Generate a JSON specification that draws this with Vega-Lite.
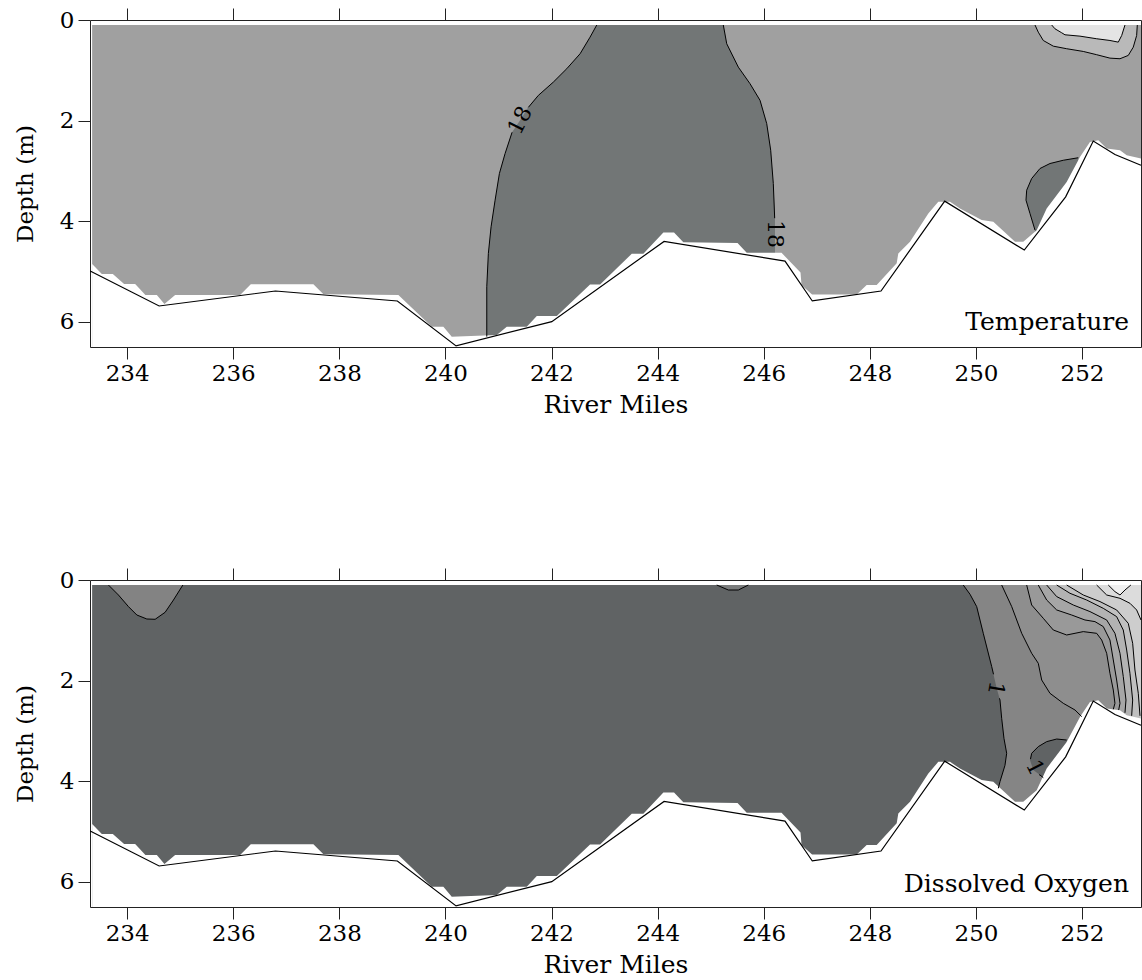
{
"$schema": "https://vega.github.io/schema/vega-lite/v6.json",
"background": "white",
"padding": {"left": 14, "top": 7, "right": 0, "bottom": 0},
"spacing": 150,
"config": {
  "font": "DejaVu Serif",
  "view": {"stroke": null},
  "text": {"font": "DejaVu Serif", "color": "#000"},
  "axis": {"labelFont": "DejaVu Serif", "titleFont": "DejaVu Serif", "labelFontSize": 23, "titleFontSize": 23, "titleFontWeight": "normal", "labelColor": "#000", "titleColor": "#000", "domainColor": "#222", "tickColor": "#222", "domainWidth": 1, "tickWidth": 1, "tickSize": 12, "grid": false, "zindex": 1}
},
"datasets": {
  "base": [{"i":0,"mile":233.34,"depth":0.1},{"i":1,"mile":253.111,"depth":0.1},{"i":2,"mile":253.111,"depth":6.5},{"i":3,"mile":233.34,"depth":6.5}],
  "mask": [{"i":0,"mile":233.34,"depth":4.851},{"i":1,"mile":233.523,"depth":5.05},{"i":2,"mile":233.73,"depth":5.05},{"i":3,"mile":233.943,"depth":5.248},{"i":4,"mile":234.151,"depth":5.248},{"i":5,"mile":234.345,"depth":5.466},{"i":6,"mile":234.56,"depth":5.466},{"i":7,"mile":234.703,"depth":5.645},{"i":8,"mile":234.905,"depth":5.466},{"i":9,"mile":236.13,"depth":5.466},{"i":10,"mile":236.331,"depth":5.254},{"i":11,"mile":237.511,"depth":5.254},{"i":12,"mile":237.7,"depth":5.452},{"i":13,"mile":239.113,"depth":5.466},{"i":14,"mile":239.742,"depth":6.095},{"i":15,"mile":239.961,"depth":6.095},{"i":16,"mile":240.119,"depth":6.294},{"i":17,"mile":240.968,"depth":6.26},{"i":18,"mile":241.156,"depth":6.095},{"i":19,"mile":241.533,"depth":6.095},{"i":20,"mile":241.722,"depth":5.883},{"i":21,"mile":242.099,"depth":5.883},{"i":22,"mile":242.726,"depth":5.258},{"i":23,"mile":242.915,"depth":5.258},{"i":24,"mile":243.512,"depth":4.647},{"i":25,"mile":243.731,"depth":4.647},{"i":26,"mile":244.108,"depth":4.226},{"i":27,"mile":244.309,"depth":4.226},{"i":28,"mile":244.484,"depth":4.419},{"i":29,"mile":245.506,"depth":4.435},{"i":30,"mile":245.679,"depth":4.627},{"i":31,"mile":246.335,"depth":4.627},{"i":32,"mile":246.693,"depth":5.02},{"i":33,"mile":246.712,"depth":5.268},{"i":34,"mile":246.91,"depth":5.456},{"i":35,"mile":247.752,"depth":5.456},{"i":36,"mile":247.94,"depth":5.268},{"i":37,"mile":248.129,"depth":5.268},{"i":38,"mile":248.506,"depth":4.837},{"i":39,"mile":248.536,"depth":4.639},{"i":40,"mile":248.757,"depth":4.409},{"i":41,"mile":249.102,"depth":3.845},{"i":42,"mile":249.29,"depth":3.615},{"i":43,"mile":249.511,"depth":3.615},{"i":44,"mile":249.699,"depth":3.746},{"i":45,"mile":250.108,"depth":3.978},{"i":46,"mile":250.327,"depth":4.012},{"i":47,"mile":250.736,"depth":4.409},{"i":48,"mile":250.892,"depth":4.409},{"i":49,"mile":251.145,"depth":4.177},{"i":50,"mile":251.333,"depth":3.746},{"i":51,"mile":251.71,"depth":3.218},{"i":52,"mile":251.961,"depth":2.722},{"i":53,"mile":252.149,"depth":2.425},{"i":54,"mile":252.306,"depth":2.391},{"i":55,"mile":252.464,"depth":2.556},{"i":56,"mile":252.715,"depth":2.589},{"i":57,"mile":252.841,"depth":2.688},{"i":58,"mile":253.111,"depth":2.754},{"i":59,"mile":253.111,"depth":6.5},{"i":60,"mile":233.34,"depth":6.5}],
  "bathy": [{"i":0,"mile":233.303,"depth":4.99},{"i":1,"mile":234.603,"depth":5.685},{"i":2,"mile":236.795,"depth":5.387},{"i":3,"mile":239.094,"depth":5.585},{"i":4,"mile":240.2,"depth":6.478},{"i":5,"mile":242.004,"depth":5.996},{"i":6,"mile":244.121,"depth":4.401},{"i":7,"mile":246.401,"depth":4.792},{"i":8,"mile":246.915,"depth":5.585},{"i":9,"mile":248.21,"depth":5.387},{"i":10,"mile":249.411,"depth":3.601},{"i":11,"mile":250.911,"depth":4.573},{"i":12,"mile":251.691,"depth":3.516},{"i":13,"mile":252.211,"depth":2.405},{"i":14,"mile":252.62,"depth":2.675},{"i":15,"mile":253.11,"depth":2.887}],
  "T_dark": [{"i":0,"mile":242.852,"depth":0.1},{"i":1,"mile":242.726,"depth":0.341},{"i":2,"mile":242.538,"depth":0.671},{"i":3,"mile":242.287,"depth":0.968},{"i":4,"mile":242.034,"depth":1.234},{"i":5,"mile":241.752,"depth":1.498},{"i":6,"mile":241.563,"depth":1.73},{"i":7,"mile":241.407,"depth":1.994},{"i":8,"mile":241.256,"depth":2.232},{"i":9,"mile":241.124,"depth":2.655},{"i":10,"mile":241.017,"depth":3.052},{"i":11,"mile":240.936,"depth":3.581},{"i":12,"mile":240.86,"depth":4.111},{"i":13,"mile":240.809,"depth":4.639},{"i":14,"mile":240.779,"depth":5.302},{"i":15,"mile":240.779,"depth":6.5},{"i":16,"mile":246.212,"depth":6.5},{"i":17,"mile":246.212,"depth":3.913},{"i":18,"mile":246.18,"depth":3.25},{"i":19,"mile":246.131,"depth":2.589},{"i":20,"mile":246.056,"depth":2.06},{"i":21,"mile":245.93,"depth":1.597},{"i":22,"mile":245.741,"depth":1.266},{"i":23,"mile":245.521,"depth":0.937},{"i":24,"mile":245.302,"depth":0.472},{"i":25,"mile":245.238,"depth":0.1}],
  "T_dark2": [{"i":0,"mile":251.929,"depth":2.738},{"i":1,"mile":251.646,"depth":2.788},{"i":2,"mile":251.395,"depth":2.853},{"i":3,"mile":251.207,"depth":2.952},{"i":4,"mile":251.05,"depth":3.151},{"i":5,"mile":250.956,"depth":3.383},{"i":6,"mile":250.943,"depth":3.581},{"i":7,"mile":251.018,"depth":3.845},{"i":8,"mile":251.113,"depth":4.177},{"i":9,"mile":251.113,"depth":6.5},{"i":10,"mile":251.929,"depth":6.5}],
  "T_bo": [{"i":0,"mile":251.113,"depth":0.1},{"i":1,"mile":251.175,"depth":0.242},{"i":2,"mile":251.269,"depth":0.407},{"i":3,"mile":251.458,"depth":0.52},{"i":4,"mile":251.71,"depth":0.571},{"i":5,"mile":252.023,"depth":0.625},{"i":6,"mile":252.276,"depth":0.69},{"i":7,"mile":252.526,"depth":0.758},{"i":8,"mile":252.715,"depth":0.77},{"i":9,"mile":252.871,"depth":0.704},{"i":10,"mile":252.965,"depth":0.54},{"i":11,"mile":253.029,"depth":0.308},{"i":12,"mile":253.041,"depth":0.1}],
  "T_bi": [{"i":0,"mile":251.428,"depth":0.1},{"i":1,"mile":251.49,"depth":0.175},{"i":2,"mile":251.616,"depth":0.254},{"i":3,"mile":251.678,"depth":0.294},{"i":4,"mile":251.961,"depth":0.321},{"i":5,"mile":252.276,"depth":0.373},{"i":6,"mile":252.526,"depth":0.407},{"i":7,"mile":252.683,"depth":0.44},{"i":8,"mile":252.747,"depth":0.308},{"i":9,"mile":252.809,"depth":0.1}],
  "T_lines": [
    {"seg":"18a","i":0,"mile":242.852,"depth":0.1},{"seg":"18a","i":1,"mile":242.726,"depth":0.341},{"seg":"18a","i":2,"mile":242.538,"depth":0.671},{"seg":"18a","i":3,"mile":242.287,"depth":0.968},{"seg":"18a","i":4,"mile":242.034,"depth":1.234},{"seg":"18a","i":5,"mile":241.752,"depth":1.498},{"seg":"18a","i":6,"mile":241.563,"depth":1.736},
    {"seg":"18b","i":0,"mile":241.256,"depth":2.232},{"seg":"18b","i":1,"mile":241.124,"depth":2.655},{"seg":"18b","i":2,"mile":241.017,"depth":3.052},{"seg":"18b","i":3,"mile":240.936,"depth":3.581},{"seg":"18b","i":4,"mile":240.86,"depth":4.111},{"seg":"18b","i":5,"mile":240.809,"depth":4.639},{"seg":"18b","i":6,"mile":240.779,"depth":5.302},{"seg":"18b","i":7,"mile":240.779,"depth":6.294},
    {"seg":"18c","i":0,"mile":245.238,"depth":0.1},{"seg":"18c","i":1,"mile":245.302,"depth":0.472},{"seg":"18c","i":2,"mile":245.521,"depth":0.937},{"seg":"18c","i":3,"mile":245.741,"depth":1.266},{"seg":"18c","i":4,"mile":245.93,"depth":1.597},{"seg":"18c","i":5,"mile":246.056,"depth":2.06},{"seg":"18c","i":6,"mile":246.131,"depth":2.589},{"seg":"18c","i":7,"mile":246.18,"depth":3.25},{"seg":"18c","i":8,"mile":246.206,"depth":3.94},
    {"seg":"bo","i":0,"mile":251.113,"depth":0.1},{"seg":"bo","i":1,"mile":251.175,"depth":0.242},{"seg":"bo","i":2,"mile":251.269,"depth":0.407},{"seg":"bo","i":3,"mile":251.458,"depth":0.52},{"seg":"bo","i":4,"mile":251.71,"depth":0.571},{"seg":"bo","i":5,"mile":252.023,"depth":0.625},{"seg":"bo","i":6,"mile":252.276,"depth":0.69},{"seg":"bo","i":7,"mile":252.526,"depth":0.758},{"seg":"bo","i":8,"mile":252.715,"depth":0.77},{"seg":"bo","i":9,"mile":252.871,"depth":0.704},{"seg":"bo","i":10,"mile":252.965,"depth":0.54},{"seg":"bo","i":11,"mile":253.029,"depth":0.308},{"seg":"bo","i":12,"mile":253.041,"depth":0.1},
    {"seg":"bi","i":0,"mile":251.428,"depth":0.1},{"seg":"bi","i":1,"mile":251.49,"depth":0.175},{"seg":"bi","i":2,"mile":251.616,"depth":0.254},{"seg":"bi","i":3,"mile":251.678,"depth":0.294},{"seg":"bi","i":4,"mile":251.961,"depth":0.321},{"seg":"bi","i":5,"mile":252.276,"depth":0.373},{"seg":"bi","i":6,"mile":252.526,"depth":0.407},{"seg":"bi","i":7,"mile":252.683,"depth":0.44},{"seg":"bi","i":8,"mile":252.747,"depth":0.308},{"seg":"bi","i":9,"mile":252.809,"depth":0.1},
    {"seg":"d2","i":0,"mile":251.929,"depth":2.738},{"seg":"d2","i":1,"mile":251.646,"depth":2.788},{"seg":"d2","i":2,"mile":251.395,"depth":2.853},{"seg":"d2","i":3,"mile":251.207,"depth":2.952},{"seg":"d2","i":4,"mile":251.05,"depth":3.151},{"seg":"d2","i":5,"mile":250.956,"depth":3.383},{"seg":"d2","i":6,"mile":250.943,"depth":3.581},{"seg":"d2","i":7,"mile":251.018,"depth":3.845},{"seg":"d2","i":8,"mile":251.113,"depth":4.177}
  ],
  "D_lb": [{"i":0,"mile":233.648,"depth":0.1},{"i":1,"mile":233.836,"depth":0.298},{"i":2,"mile":234.025,"depth":0.529},{"i":3,"mile":234.183,"depth":0.696},{"i":4,"mile":234.371,"depth":0.775},{"i":5,"mile":234.528,"depth":0.781},{"i":6,"mile":234.716,"depth":0.642},{"i":7,"mile":234.873,"depth":0.398},{"i":8,"mile":235.05,"depth":0.1}],
  "D_tb": [{"i":0,"mile":245.114,"depth":0.1},{"i":1,"mile":245.333,"depth":0.199},{"i":2,"mile":245.521,"depth":0.199},{"i":3,"mile":245.709,"depth":0.1}],
  "D_p2": [{"i":0,"mile":249.761,"depth":0.1},{"i":1,"mile":249.888,"depth":0.284},{"i":2,"mile":250.014,"depth":0.529},{"i":3,"mile":250.138,"depth":1.06},{"i":4,"mile":250.297,"depth":1.722},{"i":5,"mile":250.391,"depth":2.153},{"i":6,"mile":250.453,"depth":2.386},{"i":7,"mile":250.485,"depth":2.75},{"i":8,"mile":250.528,"depth":3.147},{"i":9,"mile":250.579,"depth":3.445},{"i":10,"mile":250.547,"depth":3.684},{"i":11,"mile":250.453,"depth":4.008},{"i":12,"mile":250.421,"depth":4.141},{"i":13,"mile":250.421,"depth":6.5},{"i":14,"mile":253.111,"depth":6.5},{"i":15,"mile":253.111,"depth":0.1}],
  "D_p3": [{"i":0,"mile":250.485,"depth":0.1},{"i":1,"mile":250.674,"depth":0.529},{"i":2,"mile":250.862,"depth":1.06},{"i":3,"mile":251.05,"depth":1.457},{"i":4,"mile":251.175,"depth":1.656},{"i":5,"mile":251.239,"depth":1.988},{"i":6,"mile":251.395,"depth":2.252},{"i":7,"mile":251.646,"depth":2.451},{"i":8,"mile":251.867,"depth":2.584},{"i":9,"mile":251.993,"depth":2.716},{"i":10,"mile":251.993,"depth":6.5},{"i":11,"mile":253.111,"depth":6.5},{"i":12,"mile":253.111,"depth":0.1}],
  "D_p4": [{"i":0,"mile":250.956,"depth":0.1},{"i":1,"mile":251.05,"depth":0.497},{"i":2,"mile":251.269,"depth":0.761},{"i":3,"mile":251.458,"depth":0.994},{"i":4,"mile":251.71,"depth":1.093},{"i":5,"mile":252.023,"depth":1.026},{"i":6,"mile":252.276,"depth":1.06},{"i":7,"mile":252.37,"depth":1.193},{"i":8,"mile":252.464,"depth":1.457},{"i":9,"mile":252.526,"depth":1.855},{"i":10,"mile":252.589,"depth":2.187},{"i":11,"mile":252.62,"depth":2.451},{"i":12,"mile":252.589,"depth":2.57},{"i":13,"mile":252.589,"depth":6.5},{"i":14,"mile":253.111,"depth":6.5},{"i":15,"mile":253.111,"depth":0.1}],
  "D_p5": [{"i":0,"mile":251.175,"depth":0.1},{"i":1,"mile":251.333,"depth":0.398},{"i":2,"mile":251.522,"depth":0.596},{"i":3,"mile":251.804,"depth":0.696},{"i":4,"mile":252.055,"depth":0.795},{"i":5,"mile":252.243,"depth":0.827},{"i":6,"mile":252.4,"depth":0.926},{"i":7,"mile":252.526,"depth":1.193},{"i":8,"mile":252.589,"depth":1.59},{"i":9,"mile":252.652,"depth":1.988},{"i":10,"mile":252.715,"depth":2.451},{"i":11,"mile":252.69,"depth":2.585},{"i":12,"mile":252.69,"depth":6.5},{"i":13,"mile":253.111,"depth":6.5},{"i":14,"mile":253.111,"depth":0.1}],
  "D_p6": [{"i":0,"mile":251.333,"depth":0.1},{"i":1,"mile":251.522,"depth":0.33},{"i":2,"mile":251.835,"depth":0.497},{"i":3,"mile":252.149,"depth":0.628},{"i":4,"mile":252.464,"depth":0.795},{"i":5,"mile":252.62,"depth":1.06},{"i":6,"mile":252.715,"depth":1.457},{"i":7,"mile":252.777,"depth":1.92},{"i":8,"mile":252.828,"depth":2.386},{"i":9,"mile":252.809,"depth":2.64},{"i":10,"mile":252.809,"depth":6.5},{"i":11,"mile":253.111,"depth":6.5},{"i":12,"mile":253.111,"depth":0.1}],
  "D_p7": [{"i":0,"mile":251.522,"depth":0.1},{"i":1,"mile":251.772,"depth":0.264},{"i":2,"mile":252.087,"depth":0.398},{"i":3,"mile":252.4,"depth":0.563},{"i":4,"mile":252.652,"depth":0.728},{"i":5,"mile":252.777,"depth":0.994},{"i":6,"mile":252.841,"depth":1.392},{"i":7,"mile":252.903,"depth":1.855},{"i":8,"mile":252.954,"depth":2.386},{"i":9,"mile":252.935,"depth":2.7},{"i":10,"mile":252.935,"depth":6.5},{"i":11,"mile":253.111,"depth":6.5},{"i":12,"mile":253.111,"depth":0.1}],
  "D_p8": [{"i":0,"mile":251.71,"depth":0.1},{"i":1,"mile":252.023,"depth":0.298},{"i":2,"mile":252.338,"depth":0.429},{"i":3,"mile":252.652,"depth":0.596},{"i":4,"mile":252.871,"depth":0.861},{"i":5,"mile":252.954,"depth":1.258},{"i":6,"mile":252.997,"depth":1.789},{"i":7,"mile":253.06,"depth":2.252},{"i":8,"mile":253.092,"depth":2.7},{"i":9,"mile":253.092,"depth":6.5},{"i":10,"mile":253.111,"depth":6.5},{"i":11,"mile":253.111,"depth":0.1}],
  "D_p9": [{"i":0,"mile":252.275,"depth":0.1},{"i":1,"mile":252.464,"depth":0.298},{"i":2,"mile":252.715,"depth":0.364},{"i":3,"mile":252.903,"depth":0.463},{"i":4,"mile":253.029,"depth":0.596},{"i":5,"mile":253.111,"depth":0.795},{"i":6,"mile":253.111,"depth":0.1}],
  "D_p10": [{"i":0,"mile":252.494,"depth":0.1},{"i":1,"mile":252.62,"depth":0.231},{"i":2,"mile":252.715,"depth":0.298},{"i":3,"mile":252.809,"depth":0.199},{"i":4,"mile":252.92,"depth":0.1}],
  "D_dark": [{"i":0,"mile":251.71,"depth":3.181},{"i":1,"mile":251.522,"depth":3.161},{"i":2,"mile":251.333,"depth":3.213},{"i":3,"mile":251.175,"depth":3.312},{"i":4,"mile":251.05,"depth":3.445},{"i":5,"mile":251.018,"depth":3.579},{"i":6,"mile":251.081,"depth":3.777},{"i":7,"mile":251.207,"depth":3.877},{"i":8,"mile":251.27,"depth":3.93},{"i":9,"mile":251.27,"depth":6.5},{"i":10,"mile":251.71,"depth":6.5}],
  "D_lines": [
    {"seg":"lb","i":0,"mile":233.648,"depth":0.1},{"seg":"lb","i":1,"mile":233.836,"depth":0.298},{"seg":"lb","i":2,"mile":234.025,"depth":0.529},{"seg":"lb","i":3,"mile":234.183,"depth":0.696},{"seg":"lb","i":4,"mile":234.371,"depth":0.775},{"seg":"lb","i":5,"mile":234.528,"depth":0.781},{"seg":"lb","i":6,"mile":234.716,"depth":0.642},{"seg":"lb","i":7,"mile":234.873,"depth":0.398},{"seg":"lb","i":8,"mile":235.05,"depth":0.1},
    {"seg":"tb","i":0,"mile":245.114,"depth":0.1},{"seg":"tb","i":1,"mile":245.333,"depth":0.199},{"seg":"tb","i":2,"mile":245.521,"depth":0.199},{"seg":"tb","i":3,"mile":245.709,"depth":0.1},
    {"seg":"1a","i":0,"mile":249.761,"depth":0.1},{"seg":"1a","i":1,"mile":249.888,"depth":0.284},{"seg":"1a","i":2,"mile":250.014,"depth":0.529},{"seg":"1a","i":3,"mile":250.138,"depth":1.06},{"seg":"1a","i":4,"mile":250.297,"depth":1.722},{"seg":"1a","i":5,"mile":250.331,"depth":1.875},
    {"seg":"1b","i":0,"mile":250.443,"depth":2.352},{"seg":"1b","i":1,"mile":250.453,"depth":2.386},{"seg":"1b","i":2,"mile":250.485,"depth":2.75},{"seg":"1b","i":3,"mile":250.528,"depth":3.147},{"seg":"1b","i":4,"mile":250.579,"depth":3.445},{"seg":"1b","i":5,"mile":250.547,"depth":3.684},{"seg":"1b","i":6,"mile":250.453,"depth":4.008},{"seg":"1b","i":7,"mile":250.421,"depth":4.141},
    {"seg":"c2","i":0,"mile":250.485,"depth":0.1},{"seg":"c2","i":1,"mile":250.674,"depth":0.529},{"seg":"c2","i":2,"mile":250.862,"depth":1.06},{"seg":"c2","i":3,"mile":251.05,"depth":1.457},{"seg":"c2","i":4,"mile":251.175,"depth":1.656},{"seg":"c2","i":5,"mile":251.239,"depth":1.988},{"seg":"c2","i":6,"mile":251.395,"depth":2.252},{"seg":"c2","i":7,"mile":251.646,"depth":2.451},{"seg":"c2","i":8,"mile":251.867,"depth":2.584},{"seg":"c2","i":9,"mile":251.993,"depth":2.716},
    {"seg":"c3","i":0,"mile":250.956,"depth":0.1},{"seg":"c3","i":1,"mile":251.05,"depth":0.497},{"seg":"c3","i":2,"mile":251.269,"depth":0.761},{"seg":"c3","i":3,"mile":251.458,"depth":0.994},{"seg":"c3","i":4,"mile":251.71,"depth":1.093},{"seg":"c3","i":5,"mile":252.023,"depth":1.026},{"seg":"c3","i":6,"mile":252.276,"depth":1.06},{"seg":"c3","i":7,"mile":252.37,"depth":1.193},{"seg":"c3","i":8,"mile":252.464,"depth":1.457},{"seg":"c3","i":9,"mile":252.526,"depth":1.855},{"seg":"c3","i":10,"mile":252.589,"depth":2.187},{"seg":"c3","i":11,"mile":252.62,"depth":2.451},{"seg":"c3","i":12,"mile":252.589,"depth":2.57},
    {"seg":"c4","i":0,"mile":251.175,"depth":0.1},{"seg":"c4","i":1,"mile":251.333,"depth":0.398},{"seg":"c4","i":2,"mile":251.522,"depth":0.596},{"seg":"c4","i":3,"mile":251.804,"depth":0.696},{"seg":"c4","i":4,"mile":252.055,"depth":0.795},{"seg":"c4","i":5,"mile":252.243,"depth":0.827},{"seg":"c4","i":6,"mile":252.4,"depth":0.926},{"seg":"c4","i":7,"mile":252.526,"depth":1.193},{"seg":"c4","i":8,"mile":252.589,"depth":1.59},{"seg":"c4","i":9,"mile":252.652,"depth":1.988},{"seg":"c4","i":10,"mile":252.715,"depth":2.451},{"seg":"c4","i":11,"mile":252.69,"depth":2.585},
    {"seg":"c5","i":0,"mile":251.333,"depth":0.1},{"seg":"c5","i":1,"mile":251.522,"depth":0.33},{"seg":"c5","i":2,"mile":251.835,"depth":0.497},{"seg":"c5","i":3,"mile":252.149,"depth":0.628},{"seg":"c5","i":4,"mile":252.464,"depth":0.795},{"seg":"c5","i":5,"mile":252.62,"depth":1.06},{"seg":"c5","i":6,"mile":252.715,"depth":1.457},{"seg":"c5","i":7,"mile":252.777,"depth":1.92},{"seg":"c5","i":8,"mile":252.828,"depth":2.386},{"seg":"c5","i":9,"mile":252.809,"depth":2.64},
    {"seg":"c6","i":0,"mile":251.522,"depth":0.1},{"seg":"c6","i":1,"mile":251.772,"depth":0.264},{"seg":"c6","i":2,"mile":252.087,"depth":0.398},{"seg":"c6","i":3,"mile":252.4,"depth":0.563},{"seg":"c6","i":4,"mile":252.652,"depth":0.728},{"seg":"c6","i":5,"mile":252.777,"depth":0.994},{"seg":"c6","i":6,"mile":252.841,"depth":1.392},{"seg":"c6","i":7,"mile":252.903,"depth":1.855},{"seg":"c6","i":8,"mile":252.954,"depth":2.386},{"seg":"c6","i":9,"mile":252.935,"depth":2.7},
    {"seg":"c7","i":0,"mile":251.71,"depth":0.1},{"seg":"c7","i":1,"mile":252.023,"depth":0.298},{"seg":"c7","i":2,"mile":252.338,"depth":0.429},{"seg":"c7","i":3,"mile":252.652,"depth":0.596},{"seg":"c7","i":4,"mile":252.871,"depth":0.861},{"seg":"c7","i":5,"mile":252.954,"depth":1.258},{"seg":"c7","i":6,"mile":252.997,"depth":1.789},{"seg":"c7","i":7,"mile":253.06,"depth":2.252},{"seg":"c7","i":8,"mile":253.092,"depth":2.7},
    {"seg":"c8","i":0,"mile":252.275,"depth":0.1},{"seg":"c8","i":1,"mile":252.464,"depth":0.298},{"seg":"c8","i":2,"mile":252.715,"depth":0.364},{"seg":"c8","i":3,"mile":252.903,"depth":0.463},{"seg":"c8","i":4,"mile":253.029,"depth":0.596},{"seg":"c8","i":5,"mile":253.111,"depth":0.795},
    {"seg":"c9","i":0,"mile":252.494,"depth":0.1},{"seg":"c9","i":1,"mile":252.62,"depth":0.231},{"seg":"c9","i":2,"mile":252.715,"depth":0.298},{"seg":"c9","i":3,"mile":252.809,"depth":0.199},{"seg":"c9","i":4,"mile":252.92,"depth":0.1},
    {"seg":"dka","i":0,"mile":251.71,"depth":3.181},{"seg":"dka","i":1,"mile":251.522,"depth":3.161},{"seg":"dka","i":2,"mile":251.333,"depth":3.213},{"seg":"dka","i":3,"mile":251.175,"depth":3.312},{"seg":"dka","i":4,"mile":251.05,"depth":3.445},{"seg":"dka","i":5,"mile":251.028,"depth":3.56},
    {"seg":"dkb","i":0,"mile":251.19,"depth":3.87},{"seg":"dkb","i":1,"mile":251.207,"depth":3.877},{"seg":"dkb","i":2,"mile":251.27,"depth":3.93}
  ],
  "T_lab1": [{"mile":241.407,"depth":1.994,"label":"18"}],
  "T_lab2": [{"mile":246.213,"depth":4.256,"label":"18"}],
  "D_lab1": [{"mile":250.376,"depth":2.153,"label":"1"}],
  "D_lab2": [{"mile":251.11,"depth":3.73,"label":"1"}],
  "T_name": [{"mile":252.885,"depth":6.17,"label":"Temperature"}],
  "D_name": [{"mile":252.885,"depth":6.21,"label":"Dissolved Oxygen"}]
},
"vconcat": [
 {
  "width": 1051, "height": 327,
  "resolve": {"axis": {"x": "independent", "y": "independent"}},
  "encoding": {
    "x": {"field": "mile", "type": "quantitative", "scale": {"domain": [233.3, 253.111], "nice": false, "zero": false}, "axis": null},
    "y": {"field": "depth", "type": "quantitative", "scale": {"domain": [0, 6.5], "reverse": true, "nice": false, "zero": false}, "axis": null}
  },
  "layer": [
    {"data": {"name": "base"}, "mark": {"type": "line", "filled": true, "color": "#a0a0a0", "opacity": 1},
     "encoding": {
       "x": {"field": "mile", "type": "quantitative", "scale": {"domain": [233.3, 253.111], "nice": false, "zero": false}, "axis": {"orient": "bottom", "values": [234,236,238,240,242,244,246,248,250,252], "title": "River Miles", "titleFontSize": 25, "labelPadding": 3, "titlePadding": 7}},
       "y": {"field": "depth", "type": "quantitative", "scale": {"domain": [0, 6.5], "reverse": true, "nice": false, "zero": false}, "axis": {"orient": "left", "values": [0,2,4,6], "title": "Depth (m)", "labelPadding": 4, "titlePadding": 22}},
       "order": {"field": "i"}}},
    {"data": {"name": "T_dark"}, "mark": {"type": "line", "filled": true, "color": "#727676", "opacity": 1},
     "encoding": {
       "x": {"field": "mile", "type": "quantitative", "scale": {"domain": [233.3, 253.111], "nice": false, "zero": false}, "axis": {"orient": "top", "values": [234,236,238,240,242,244,246,248,250,252], "labels": false, "title": null}},
       "y": {"field": "depth", "type": "quantitative", "scale": {"domain": [0, 6.5], "reverse": true, "nice": false, "zero": false}, "axis": {"orient": "right", "labels": false, "ticks": false, "title": null}},
       "order": {"field": "i"}}},
    {"data": {"name": "T_dark2"}, "mark": {"type": "line", "filled": true, "color": "#727676", "opacity": 1}, "encoding": {"order": {"field": "i"}}},
    {"data": {"name": "T_bo"}, "mark": {"type": "line", "filled": true, "color": "#b9b9b9", "opacity": 1}, "encoding": {"order": {"field": "i"}}},
    {"data": {"name": "T_bi"}, "mark": {"type": "line", "filled": true, "color": "#e4e4e4", "opacity": 1}, "encoding": {"order": {"field": "i"}}},
    {"data": {"name": "mask"}, "mark": {"type": "line", "filled": true, "color": "#ffffff", "opacity": 1}, "encoding": {"order": {"field": "i"}}},
    {"data": {"name": "T_lines"}, "mark": {"type": "line", "color": "#000000", "strokeWidth": 1}, "encoding": {"detail": {"field": "seg"}, "order": {"field": "i"}}},
    {"data": {"name": "bathy"}, "mark": {"type": "line", "color": "#000000", "strokeWidth": 1.2}, "encoding": {"order": {"field": "i"}}},
    {"data": {"name": "T_lab1"}, "mark": {"type": "text", "fontSize": 22, "angle": 297, "align": "center", "baseline": "middle"}, "encoding": {"text": {"field": "label"}}},
    {"data": {"name": "T_lab2"}, "mark": {"type": "text", "fontSize": 22, "angle": 90, "align": "center", "baseline": "middle"}, "encoding": {"text": {"field": "label"}}},
    {"data": {"name": "T_name"}, "mark": {"type": "text", "fontSize": 25, "align": "right", "baseline": "alphabetic"}, "encoding": {"text": {"field": "label"}}}
  ]
 },
 {
  "width": 1051, "height": 327,
  "resolve": {"axis": {"x": "independent", "y": "independent"}},
  "encoding": {
    "x": {"field": "mile", "type": "quantitative", "scale": {"domain": [233.3, 253.111], "nice": false, "zero": false}, "axis": null},
    "y": {"field": "depth", "type": "quantitative", "scale": {"domain": [0, 6.5], "reverse": true, "nice": false, "zero": false}, "axis": null}
  },
  "layer": [
    {"data": {"name": "base"}, "mark": {"type": "line", "filled": true, "color": "#606364", "opacity": 1},
     "encoding": {
       "x": {"field": "mile", "type": "quantitative", "scale": {"domain": [233.3, 253.111], "nice": false, "zero": false}, "axis": {"orient": "bottom", "values": [234,236,238,240,242,244,246,248,250,252], "title": "River Miles", "titleFontSize": 25, "labelPadding": 3, "titlePadding": 7}},
       "y": {"field": "depth", "type": "quantitative", "scale": {"domain": [0, 6.5], "reverse": true, "nice": false, "zero": false}, "axis": {"orient": "left", "values": [0,2,4,6], "title": "Depth (m)", "labelPadding": 4, "titlePadding": 22}},
       "order": {"field": "i"}}},
    {"data": {"name": "D_lb"}, "mark": {"type": "line", "filled": true, "color": "#838383", "opacity": 1},
     "encoding": {
       "x": {"field": "mile", "type": "quantitative", "scale": {"domain": [233.3, 253.111], "nice": false, "zero": false}, "axis": {"orient": "top", "values": [234,236,238,240,242,244,246,248,250,252], "labels": false, "title": null}},
       "y": {"field": "depth", "type": "quantitative", "scale": {"domain": [0, 6.5], "reverse": true, "nice": false, "zero": false}, "axis": {"orient": "right", "labels": false, "ticks": false, "title": null}},
       "order": {"field": "i"}}},
    {"data": {"name": "D_tb"}, "mark": {"type": "line", "filled": true, "color": "#7a7c7c", "opacity": 1}, "encoding": {"order": {"field": "i"}}},
    {"data": {"name": "D_p2"}, "mark": {"type": "line", "filled": true, "color": "#858585", "opacity": 1}, "encoding": {"order": {"field": "i"}}},
    {"data": {"name": "D_p3"}, "mark": {"type": "line", "filled": true, "color": "#8e8e8e", "opacity": 1}, "encoding": {"order": {"field": "i"}}},
    {"data": {"name": "D_p4"}, "mark": {"type": "line", "filled": true, "color": "#999999", "opacity": 1}, "encoding": {"order": {"field": "i"}}},
    {"data": {"name": "D_p5"}, "mark": {"type": "line", "filled": true, "color": "#a6a6a6", "opacity": 1}, "encoding": {"order": {"field": "i"}}},
    {"data": {"name": "D_p6"}, "mark": {"type": "line", "filled": true, "color": "#b3b3b3", "opacity": 1}, "encoding": {"order": {"field": "i"}}},
    {"data": {"name": "D_p7"}, "mark": {"type": "line", "filled": true, "color": "#c0c0c0", "opacity": 1}, "encoding": {"order": {"field": "i"}}},
    {"data": {"name": "D_p8"}, "mark": {"type": "line", "filled": true, "color": "#cdcdcd", "opacity": 1}, "encoding": {"order": {"field": "i"}}},
    {"data": {"name": "D_p9"}, "mark": {"type": "line", "filled": true, "color": "#dcdcdc", "opacity": 1}, "encoding": {"order": {"field": "i"}}},
    {"data": {"name": "D_p10"}, "mark": {"type": "line", "filled": true, "color": "#f0f0f0", "opacity": 1}, "encoding": {"order": {"field": "i"}}},
    {"data": {"name": "D_dark"}, "mark": {"type": "line", "filled": true, "color": "#606364", "opacity": 1}, "encoding": {"order": {"field": "i"}}},
    {"data": {"name": "mask"}, "mark": {"type": "line", "filled": true, "color": "#ffffff", "opacity": 1}, "encoding": {"order": {"field": "i"}}},
    {"data": {"name": "D_lines"}, "mark": {"type": "line", "color": "#000000", "strokeWidth": 1}, "encoding": {"detail": {"field": "seg"}, "order": {"field": "i"}}},
    {"data": {"name": "bathy"}, "mark": {"type": "line", "color": "#000000", "strokeWidth": 1.2}, "encoding": {"order": {"field": "i"}}},
    {"data": {"name": "D_lab1"}, "mark": {"type": "text", "fontSize": 22, "angle": 100, "align": "center", "baseline": "middle"}, "encoding": {"text": {"field": "label"}}},
    {"data": {"name": "D_lab2"}, "mark": {"type": "text", "fontSize": 22, "angle": 63, "align": "center", "baseline": "middle"}, "encoding": {"text": {"field": "label"}}},
    {"data": {"name": "D_name"}, "mark": {"type": "text", "fontSize": 25, "align": "right", "baseline": "alphabetic"}, "encoding": {"text": {"field": "label"}}}
  ]
 }
]
}
